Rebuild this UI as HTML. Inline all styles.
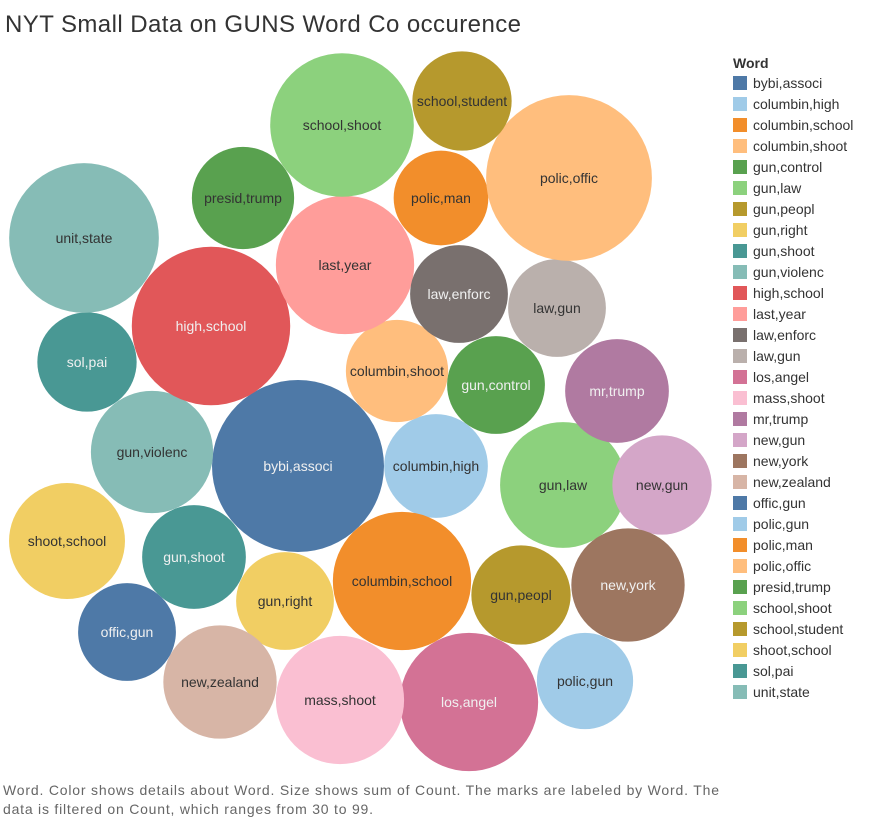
<!DOCTYPE html>
<html><head><meta charset="utf-8">
<style>
body{margin:0;background:#fff;font-family:"Liberation Sans",sans-serif;}
svg{display:block}
</style></head>
<body>
<svg id="chart" width="873" height="821" xmlns="http://www.w3.org/2000/svg">
<text x="5" y="32" font-size="24" fill="#333" textLength="516" lengthAdjust="spacing" font-family="Liberation Sans, sans-serif">NYT Small Data on GUNS Word Co occurence</text>
<text x="733" y="68" font-size="14" font-weight="bold" fill="#333">Word</text>
<g id="bubbles"></g>
<g id="legend"></g>
<text x="3" y="795" font-size="14" fill="#666" textLength="716" lengthAdjust="spacing">Word.  Color shows details about Word.  Size shows sum of Count.  The marks are labeled by Word. The</text>
<text x="3" y="814" font-size="14" fill="#666" textLength="370" lengthAdjust="spacing">data is filtered on Count, which ranges from 30 to 99.</text>
</svg>
<script>
const words = ["bybi,associ","columbin,high","columbin,school","columbin,shoot","gun,control","gun,law","gun,peopl","gun,right","gun,shoot","gun,violenc","high,school","last,year","law,enforc","law,gun","los,angel","mass,shoot","mr,trump","new,gun","new,york","new,zealand","offic,gun","polic,gun","polic,man","polic,offic","presid,trump","school,shoot","school,student","shoot,school","sol,pai","unit,state"];
const counts = [99,36,64,35,32,53,33,32,36,50,84,64,32,32,64,55,36,33,43,43,32,31,30,92,35,69,33,45,33,75];
const colors = ["#4e79a7","#a0cbe8","#f28e2b","#ffbe7d","#59a14f","#8cd17d","#b6992d","#f1ce63","#499894","#86bcb6","#e15759","#ff9d9a","#79706e","#bab0ac","#d37295","#fabfd2","#b07aa1","#d4a6c8","#9d7660","#d7b5a6"];
const darkLabel = ["bybi,associ","gun,shoot","high,school","law,enforc","los,angel","mr,trump","new,york","offic,gun","sol,pai","gun,control"];
// packed layout centers (layout, not data)
const layoutX = [298,436,402,397,496,563,521,285,194,152,211,345,459,557,469,340,617,662,628,220,127,585,441,569,243,342,462,67,87,84];
const layoutY = [466,466,581,371,385,485,595,601,557,452,326,265,294,308,702,700,391,485,585,682,632,681,198,178,198,125,101,541,362,238];
const maxCount = 99, maxR = 86;
function rScale(c){return Math.sqrt(c/maxCount)*maxR;}
const NS="http://www.w3.org/2000/svg";
const gB=document.getElementById('bubbles');
const gL=document.getElementById('legend');
words.forEach((w,i)=>{
  const col=colors[i%colors.length];
  const c=document.createElementNS(NS,'circle');
  
  
  c.setAttribute('cx',layoutX[i]);c.setAttribute('cy',layoutY[i]);
  c.setAttribute('r',rScale(counts[i]));c.setAttribute('fill',col);
  gB.appendChild(c);
  const t=document.createElementNS(NS,'text');
  
  
  t.setAttribute('x',layoutX[i]);t.setAttribute('y',layoutY[i]+5);
  t.setAttribute('text-anchor','middle');t.setAttribute('font-size','14');
  t.setAttribute('fill',darkLabel.includes(w)?'#f0f0f0':'#333');
  t.textContent=w;gB.appendChild(t);
  const y=76+i*21;
  const s=document.createElementNS(NS,'rect');
  
  
  s.setAttribute('x',733);s.setAttribute('y',y);s.setAttribute('width',14);s.setAttribute('height',14);
  s.setAttribute('fill',col);gL.appendChild(s);
  const lt=document.createElementNS(NS,'text');
  
  
  lt.setAttribute('x',753);lt.setAttribute('y',y+12);lt.setAttribute('font-size','14');lt.setAttribute('fill','#333');
  lt.textContent=w;gL.appendChild(lt);
});
</script>
</body></html>
